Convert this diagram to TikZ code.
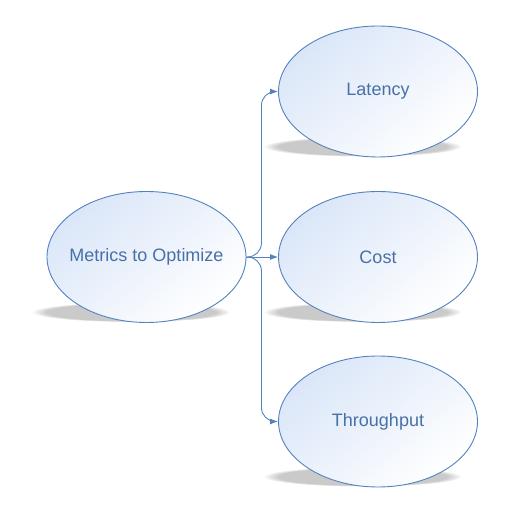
\documentclass[tikz,border=0pt]{standalone}
\usepackage{fontspec}
\setmainfont{Liberation Sans}
\usepackage{tikz}
\usetikzlibrary{arrows.meta,shapes.geometric,backgrounds,fadings}

\definecolor{edgeblue}{RGB}{84,130,190}
\definecolor{textblue}{RGB}{72,112,168}
\definecolor{fillblue}{RGB}{218,230,248}
\definecolor{shadowgrey}{RGB}{202,202,202}

\tikzset{
	metric/.style={ellipse, draw=edgeblue, line width=0.9bp,
		inner xsep=-30bp, inner ysep=0pt,
		minimum width=199bp, minimum height=131bp,
		top color=fillblue, bottom color=white, shading angle=40,
		text=textblue, font=\fontsize{18bp}{21bp}\selectfont},
	link/.style={->, draw=edgeblue, line width=0.9bp},
}

\begin{document}
\begin{tikzpicture}[>={Latex[length=8bp,width=6bp]}]
	\useasboundingbox (0bp,0bp) rectangle (514bp,529bp);

	\node (m) at (146.5bp,272bp) [metric] {Metrics to Optimize};
	\node (l) at (378bp,437.5bp) [metric] {Latency};
	\node (c) at (378bp,272bp)   [metric] {Cost};
	\node (t) at (378bp,107.5bp) [metric] {Throughput};

	% shadows under the ellipses
	\begin{scope}[on background layer]
		\foreach \n in {m,l,c,t}
			\fill [shadowgrey, path fading=circle with fuzzy edge 15 percent]
				([xshift=-15.5bp,yshift=-55bp]\n.center) ellipse (99bp and 10bp);
	\end{scope}

	\draw [link, rounded corners=14bp] (m.east) -| ([xshift=15bp]m.east |- l.west) -- (l.west);
	\draw [link] (m.east) -- (c.west);
	\draw [link, rounded corners=14bp] (m.east) -| ([xshift=15bp]m.east |- t.west) -- (t.west);
\end{tikzpicture}
\end{document}
